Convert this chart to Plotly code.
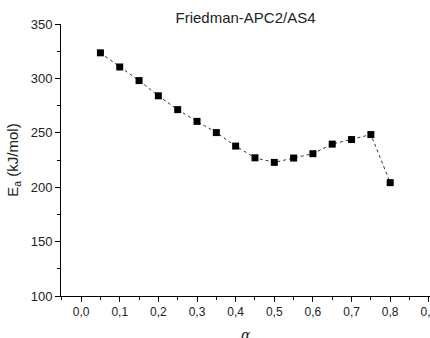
import plotly.graph_objects as go

alpha = [0.05, 0.10, 0.15, 0.20, 0.25, 0.30, 0.35, 0.40, 0.45, 0.50,
         0.55, 0.60, 0.65, 0.70, 0.75, 0.80]
ea = [323.5, 310.5, 298.0, 284.0, 271.3, 260.5, 250.2, 237.8, 227.0, 222.8,
      226.8, 230.8, 239.6, 243.8, 248.4, 204.2]

title_text = "Friedman-APC2/AS4"
x_title = "<i>α</i>"
y_title = "E<sub>a</sub> (kJ/mol)"

fig = go.Figure()
fig.add_trace(go.Scatter(
    x=alpha, y=ea, mode="lines+markers",
    line=dict(color="#333333", width=1, dash="dot"),
    marker=dict(symbol="square", size=7, color="black"),
    showlegend=False,
))

fig.update_layout(
    width=430, height=338,
    margin=dict(l=61, r=0, t=24, b=42),
    paper_bgcolor="white", plot_bgcolor="white",
    separators=",.",
    font=dict(family="Liberation Sans, Arial, sans-serif", color="#222222", size=13),
    title=dict(text=title_text, x=0.5, xref="paper", y=1 - 18 / 338,
               yref="container", xanchor="center", yanchor="middle",
               font=dict(size=15, color="#222222"), automargin=False),
)
fig.add_annotation(
    text=x_title, xref="paper", yref="paper", x=0.5, y=-0.145,
    xanchor="center", yanchor="middle", showarrow=False,
    font=dict(family="DejaVu Serif, serif", size=14, color="#222222"),
)
fig.update_xaxes(
    range=[-0.052, 0.903], dtick=0.1, tick0=0, tickformat=".1f",
    automargin=False, ticklabeloverflow="allow",
    showline=True, linecolor="black", linewidth=1,
    ticks="outside", ticklen=5, tickcolor="black",
    minor=dict(dtick=0.05, tick0=0, ticks="outside", ticklen=3, tickcolor="black"),
    showgrid=False, zeroline=False,
    tickfont=dict(size=12),
)
fig.update_yaxes(
    range=[100, 350], dtick=50,
    automargin=False,
    showline=True, linecolor="black", linewidth=1,
    ticks="outside", ticklen=5, tickcolor="black",
    minor=dict(dtick=25, ticks="outside", ticklen=3, tickcolor="black"),
    showgrid=False, zeroline=False,
    tickfont=dict(size=13),
    title=dict(text=y_title, font=dict(size=15), standoff=8),
)

fig.write_html("out.html", config={"displayModeBar": False},
               post_script="document.body.style.margin='0';document.body.style.overflow='hidden';")
